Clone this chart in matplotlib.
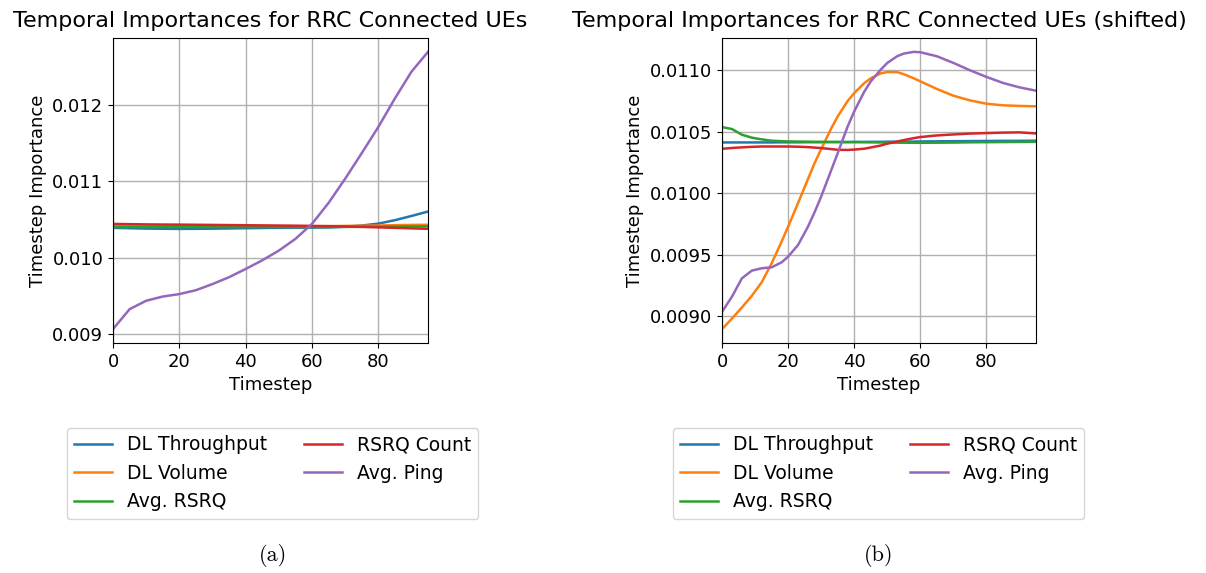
import numpy as np
import matplotlib
matplotlib.use('Agg')
from matplotlib import pyplot as plt

LABELS = ['DL Throughput', 'DL Volume', 'Avg. RSRQ', 'RSRQ Count', 'Avg. Ping']

# (a) unshifted importances, read at sparse timesteps
a_t = [0, 5, 10, 15, 20, 25, 30, 35, 40, 45, 50, 55, 60, 65, 70, 75, 80, 85, 90, 95]
a_thr = [0.01039, 0.010385, 0.01038, 0.010378, 0.010376, 0.010377, 0.010379, 0.010382,
         0.010385, 0.010388, 0.01039, 0.010392, 0.010393, 0.010395, 0.010405, 0.01042,
         0.010445, 0.01049, 0.010545, 0.010603]
a_vol = [0.01041, 0.01041, 0.01041, 0.01041, 0.01041, 0.01041, 0.01041, 0.01041,
         0.01041, 0.01041, 0.01041, 0.01041, 0.01041, 0.010412, 0.010415, 0.010418,
         0.01042, 0.010425, 0.010428, 0.01043]
a_rsrq = [0.0104, 0.0104, 0.0104, 0.0104, 0.0104, 0.0104, 0.0104, 0.0104,
          0.0104, 0.0104, 0.0104, 0.0104, 0.0104, 0.0104, 0.010402, 0.010404,
          0.010405, 0.010407, 0.010408, 0.01041]
a_cnt = [0.010441, 0.010438, 0.010435, 0.010433, 0.010432, 0.01043, 0.010428, 0.010426,
         0.010424, 0.010422, 0.01042, 0.010418, 0.010415, 0.010412, 0.010408, 0.010402,
         0.010396, 0.01039, 0.010383, 0.010377]
a_ping = [0.009066, 0.009327, 0.009437, 0.009492, 0.009524, 0.009575, 0.009655, 0.009745,
          0.009852, 0.009965, 0.010092, 0.010245, 0.010441, 0.010715, 0.011031, 0.011365,
          0.011707, 0.01208, 0.01243, 0.01269]

# (b) shifted importances
b_t = [0, 3, 6, 9, 12, 15, 18, 20, 23, 26, 28, 30, 33, 35, 38, 40, 43, 45, 48, 50,
       53, 55, 58, 60, 65, 70, 75, 80, 85, 90, 95]
b_thr = [0.010413, 0.010413, 0.010413, 0.010413, 0.010413, 0.010413, 0.010414, 0.010414,
         0.010414, 0.010415, 0.010415, 0.010415, 0.010416, 0.010416, 0.010416, 0.010417,
         0.010417, 0.010418, 0.010418, 0.010419, 0.010419, 0.01042, 0.01042, 0.010421,
         0.010422, 0.010423, 0.010424, 0.010425, 0.010426, 0.010426, 0.010427]
b_vol = [0.008894, 0.00898, 0.00907, 0.009165, 0.009275, 0.009429, 0.009605, 0.009728,
         0.00992, 0.010115, 0.010245, 0.01036, 0.010525, 0.010625, 0.01075, 0.010815,
         0.010895, 0.010935, 0.010975, 0.010986, 0.010985, 0.010968, 0.010935, 0.01091,
         0.010848, 0.010793, 0.010755, 0.010728, 0.010715, 0.01071, 0.010707]
b_rsrq = [0.010538, 0.010522, 0.010476, 0.010452, 0.010438, 0.010427, 0.010423, 0.010421,
          0.01042, 0.010419, 0.010418, 0.010418, 0.010417, 0.010417, 0.010416, 0.010416,
          0.010415, 0.010414, 0.010413, 0.010412, 0.010411, 0.010411, 0.01041, 0.01041,
          0.010411, 0.010412, 0.010414, 0.010415, 0.010416, 0.010417, 0.010418]
b_cnt = [0.010361, 0.010368, 0.010373, 0.010377, 0.01038, 0.01038, 0.01038, 0.01038,
         0.010378, 0.010375, 0.010371, 0.010367, 0.010359, 0.010353, 0.010352, 0.010355,
         0.010362, 0.010372, 0.010388, 0.010403, 0.01042, 0.010432, 0.010448, 0.010457,
         0.01047, 0.010478, 0.010485, 0.010489, 0.010493, 0.010495, 0.010486]
b_ping = [0.009035, 0.009158, 0.009307, 0.00937, 0.009389, 0.009397, 0.009437, 0.009484,
          0.009579, 0.009728, 0.009845, 0.009973, 0.010185, 0.010326, 0.010543, 0.010666,
          0.010825, 0.01091, 0.011005, 0.01106, 0.011115, 0.011136, 0.01115, 0.011147,
          0.011114, 0.01106, 0.011, 0.010946, 0.010897, 0.010861, 0.010834]

a_yticks = [0.009, 0.010, 0.011, 0.012]
b_yticks = [0.0090, 0.0095, 0.0100, 0.0105, 0.0110]

COLORS = ['#1f77b4', '#ff7f0e', '#2ca02c', '#d62728', '#9467bd']

plt.rcParams.update({'font.size': 13})
fig = plt.figure(figsize=(12.06, 5.73), dpi=100)
ax0 = fig.add_axes([0.0937, 0.4014, 0.2612, 0.5323])
ax1 = fig.add_axes([0.5987, 0.4014, 0.2604, 0.5323])

panels = [
    (ax0, a_t, [a_thr, a_vol, a_rsrq, a_cnt, a_ping], a_yticks, '%.3f',
     'Temporal Importances for RRC Connected UEs', 0.226, '(a)'),
    (ax1, b_t, [b_thr, b_vol, b_rsrq, b_cnt, b_ping], b_yticks, '%.4f',
     'Temporal Importances for RRC Connected UEs (shifted)', 0.7284, '(b)'),
]

for ax, t, series, yt, fmt, title, cx, cap in panels:
    for ys, lab, c in zip(series, LABELS, COLORS):
        ax.plot(t, ys, color=c, linewidth=1.8, label=lab)
    ax.set_xlim(0, 95)
    ax.set_xticks([0, 20, 40, 60, 80])
    ax.set_yticks(yt)
    ax.yaxis.set_major_formatter(plt.FormatStrFormatter(fmt))
    ax.grid(True, color='#b0b0b0', linewidth=1.0)
    ax.set_xlabel('Timestep')
    ax.set_ylabel('Timestep Importance')
    ax.set_title(title, fontsize=16, pad=8)
    h, l = ax.get_legend_handles_labels()
    fig.legend(h, l, loc='upper center', bbox_to_anchor=(cx, 0.2531),
               ncol=2, borderaxespad=0, fontsize=13.5)
    fig.text(cx, 0.03, cap, ha='center', va='center',
             fontsize=16, family='cmr10')

fig.savefig('out.png', dpi=100)
